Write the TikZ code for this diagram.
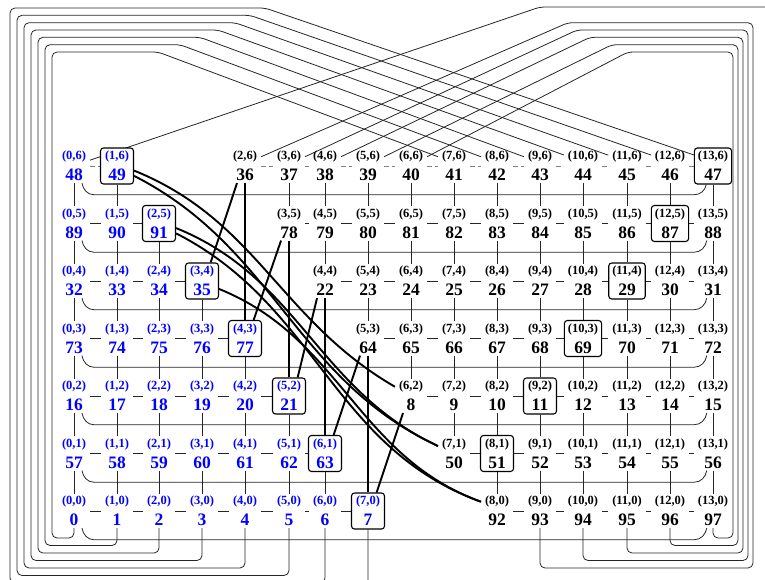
\documentclass[tikz,border=0pt]{standalone}
\usepackage{fontspec}
\setmainfont{Liberation Serif}
\pgfdeclarelayer{bg}
\pgfsetlayers{bg,main}
\newcommand\cellc[2]{\vbox{\offinterlineskip\halign{\hfil##\hfil\cr
\fontsize{12.5}{12.5}\selectfont\vrule width 0pt height 10.35pt depth 5pt#1\cr
\fontsize{17.5}{17.5}\selectfont\vrule width 0pt height 15.9pt depth 1.75pt#2\cr}}}
\def\PXarr{{74,117,159,202,245,289,325,368,411,454,497,540,583,627,670,713}}
\tikzset{
  cell/.style={inner xsep=3.5pt, inner ysep=0pt, font=\bfseries, rounded corners=3pt, line width=1.1pt},
  thinedge/.style={line width=0.8pt, black!85},
  hdash/.style={line width=0.9pt, gray, dash pattern=on 5pt off 3pt},
  thk/.style={line width=1.9pt, black},
}
\begin{document}
\begin{tikzpicture}[x=1pt,y=1pt]
\useasboundingbox (0,0) rectangle (765,-579);
% nodes
\foreach \y in {0,...,6}{
 \foreach \x in {0,...,13}{
  \pgfmathtruncatemacro\bk{(\x+\y>7)?1:0}
  \pgfmathtruncatemacro\col{\x+2*\bk}
  \pgfmathtruncatemacro\id{mod(\x+57*\y-14*\bk+196,98)}
  \pgfmathsetmacro\px{\PXarr[\col]}
  \pgfmathsetmacro\py{-166-(6-\y)*57.5}
  \pgfmathtruncatemacro\bx{((\x+\y==7)||(\x-\y==7))?1:0}
  \ifnum\bk=0 \def\tc{blue}\else\def\tc{black}\fi
  \ifnum\bx=1 \def\dc{black}\def\fc{white}\def\mw{33}\def\mh{36}\else\def\dc{none}\def\fc{none}\def\mw{1}\def\mh{1}\fi
  \node[cell,text=\tc,draw=\dc,fill=\fc,minimum width=\mw pt,minimum height=\mh pt] (n-\x-\y) at (\px,\py) {\cellc{(\x,\y)}{\id}};
 }}
\begin{pgfonlayer}{bg}
% horizontal edges
\foreach \y in {0,...,6}{
 \foreach \x in {0,...,12}{
  \pgfmathtruncatemacro\xn{\x+1}
  \pgfmathtruncatemacro\ba{(\x+\y>7)?1:0}
  \pgfmathtruncatemacro\bb{(\xn+\y>7)?1:0}
  \ifnum\ba=\bb
    \ifnum\y=6 \draw[hdash] (n-\x-\y) -- (n-\xn-\y);
    \else \draw[thinedge] (n-\x-\y) -- (n-\xn-\y); \fi
  \fi
 }}
% vertical edges
\foreach \y in {1,...,6}{
 \foreach \x in {0,...,13}{
  \pgfmathtruncatemacro\ym{\y-1}
  \pgfmathtruncatemacro\ba{(\x+\y>7)?1:0}
  \pgfmathtruncatemacro\bb{(\x+\ym>7)?1:0}
  \ifnum\ba=\bb \draw[thinedge] (n-\x-\y) -- (n-\x-\ym); \fi
 }}
% row wraps
\foreach \y in {0,...,6}{
  \pgfmathsetmacro\yw{-166-(6-\y)*57.5-28.75}
  \coordinate (wl-\y) at (94,\yw);
  \coordinate (wr-\y) at (694,\yw);
  \draw[thinedge] (n-0-\y.-65) to[out=-80,in=180] (wl-\y) -- (wr-\y) to[out=0,in=-100] (n-13-\y.-110);
}
% left column loops
\foreach \c/\xl/\yb/\yt/\xbend in {0/52/538/52/158, 1/45/545.5/44.7/180, 2/38/553/37.3/200, 3/31/560.5/30/218, 4/24/568/22.7/235, 5/17/575.5/15.3/250, 6/10/583/8/265}{
  \pgfmathtruncatemacro\ct{\c+7}
  \draw[thinedge, rounded corners=5pt] (n-\c-0.south) |- (\xl,-\yb) |- (\xbend,-\yt) -- (n-\ct-6.150);
}
% right column loops
\foreach \c/\xr/\yb/\yt/\xbend in {13/733/538/52/628, 12/738/545.5/44.7/612, 11/743/553/37.3/590, 10/748/560.5/30/577, 9/753/568/22.7/568}{
  \pgfmathtruncatemacro\ct{\c-7}
  \draw[thinedge, rounded corners=5pt] (n-\c-0.south) |- (\xr,-\yb) |- (\xbend,-\yt) -- (n-\ct-6.30);
}
% loop 7 -> 48 (leaves the picture)
\draw[thinedge, rounded corners=5pt] (n-7-0.south) |- (790,-595) |- (540,-7) -- (n-0-6.20);
% thick verticals and slants
\foreach \k in {2,...,5}{
  \pgfmathtruncatemacro\ya{8-\k}
  \pgfmathtruncatemacro\xb{\k+2}
  \pgfmathtruncatemacro\yb{5-\k}
  \draw[thk] (n-\k-\ya) -- (n-\xb-\yb);
}
\foreach \k in {2,...,6}{
  \pgfmathtruncatemacro\ya{8-\k}
  \pgfmathtruncatemacro\xc{\k+1}
  \pgfmathtruncatemacro\yc{6-\k}
  \draw[thk] (n-\k-\ya.-115) -- (n-\xc-\yc.65);
}
% thick curves
\draw[thk] (n-1-6.-15) to[out=-22,in=150] (n-6-2.150);
\draw[thk] (n-1-6.-30) to[out=-27,in=155] (n-7-1.155);
\draw[thk] (n-2-5.-15) to[out=-22,in=155] (n-7-1.155);
\draw[thk] (n-2-5.-30) to[out=-27,in=160] (n-8-0.150);
\draw[thk] (n-3-4.-25) to[out=-22,in=160] (n-8-0.150);
\end{pgfonlayer}
\end{tikzpicture}
\end{document}
